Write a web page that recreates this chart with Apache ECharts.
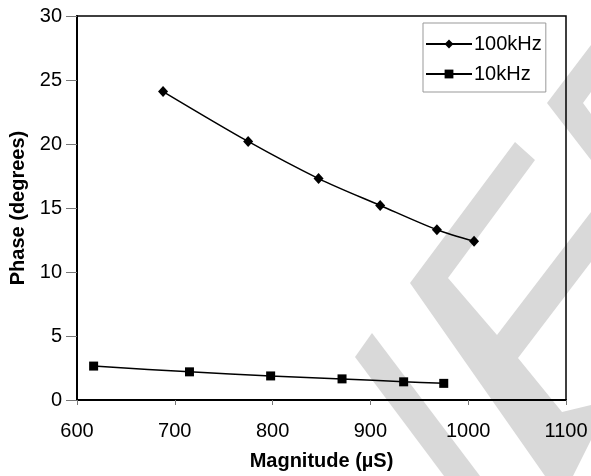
<!DOCTYPE html>
<html>
<head>
<meta charset="utf-8">
<script src="https://cdn.jsdelivr.net/npm/echarts@6/dist/echarts.min.js"></script>
<style>
  html, body { margin: 0; padding: 0; background: #fff; }
  #chart { width: 591px; height: 476px; }
</style>
</head>
<body>
<div id="chart"></div>
<script>
// Values
var seriesNames = ['100kHz', '10kHz'];
var magnitude100k = [688, 775, 847, 910, 968, 1006];
var phase100k = [24.1, 20.2, 17.3, 15.2, 13.3, 12.4];
var magnitude10k = [617, 715, 798, 871, 934, 975];
var phase10k = [2.65, 2.2, 1.88, 1.65, 1.42, 1.3];

var FONT = 'Liberation Sans, Arial, sans-serif';

function pairs(xs, ys) {
    return xs.map(function (x, i) { return [x, ys[i]]; });
}

// light grey watermark stripes behind the plot
var wmColor = '#d9d9d9';
function wm(points) {
    return { type: 'polygon', z: -1, silent: true, shape: { points: points }, style: { fill: wmColor } };
}

var chart = echarts.init(document.getElementById('chart'), null, { renderer: 'canvas' });

chart.setOption({
    animation: false,
    backgroundColor: '#fff',
    graphic: {
        elements: [
            wm([[355, 357], [372, 333], [480, 476], [444, 476]]),
            wm([[515, 142], [535, 160], [448, 278], [497, 335], [591, 212], [591, 262], [518, 358],
                [562, 412], [591, 405], [591, 440], [573, 476], [545, 476], [410, 283]]),
            wm([[547, 103], [591, 45], [591, 92], [583, 103], [591, 114], [591, 160]])
        ]
    },
    grid: {
        left: 77, top: 16, right: 25, bottom: 75,
        show: true, borderColor: '#000', borderWidth: 1.5, backgroundColor: 'transparent'
    },
    legend: {
        orient: 'vertical',
        left: 423, top: 23,
        padding: [11, 4, 8, 2],
        itemGap: 10,
        itemWidth: 46, itemHeight: 11,
        backgroundColor: '#fff',
        borderColor: '#999', borderWidth: 1,
        textStyle: { fontFamily: FONT, fontSize: 20, color: '#000', padding: [0, 0, 0, -3] },
        data: seriesNames
    },
    xAxis: {
        type: 'value',
        min: 600, max: 1100, interval: 100,
        name: 'Magnitude (\u00b5S)',
        nameLocation: 'middle', nameGap: 51,
        nameTextStyle: { fontFamily: FONT, fontSize: 20, fontWeight: 'bold', color: '#000' },
        axisLine: { lineStyle: { color: '#000', width: 2 } },
        axisTick: { show: true, length: 5, lineStyle: { color: '#777', width: 1 } },
        axisLabel: {
            fontFamily: FONT, fontSize: 20, color: '#000', margin: 21,
            formatter: function (v) { return String(v); }
        },
        splitLine: { show: false }
    },
    yAxis: {
        type: 'value',
        min: 0, max: 30, interval: 5,
        name: 'Phase (degrees)',
        nameLocation: 'middle', nameGap: 49,
        nameTextStyle: { fontFamily: FONT, fontSize: 20, fontWeight: 'bold', color: '#000' },
        axisLine: { lineStyle: { color: '#000', width: 2 } },
        axisTick: { show: true, length: 11, lineStyle: { color: '#777', width: 1 } },
        axisLabel: { fontFamily: FONT, fontSize: 20, color: '#000', margin: 15 },
        splitLine: { show: false }
    },
    series: [
        {
            name: seriesNames[0],
            type: 'line',
            smooth: 0.3,
            symbol: 'diamond',
            symbolSize: [10, 11],
            itemStyle: { color: '#000' },
            lineStyle: { color: '#000', width: 1.5 },
            data: pairs(magnitude100k, phase100k)
        },
        {
            name: seriesNames[1],
            type: 'line',
            smooth: 0.3,
            symbol: 'rect',
            symbolSize: 9,
            itemStyle: { color: '#000' },
            lineStyle: { color: '#000', width: 1.5 },
            data: pairs(magnitude10k, phase10k)
        }
    ]
});
</script>
</body>
</html>
